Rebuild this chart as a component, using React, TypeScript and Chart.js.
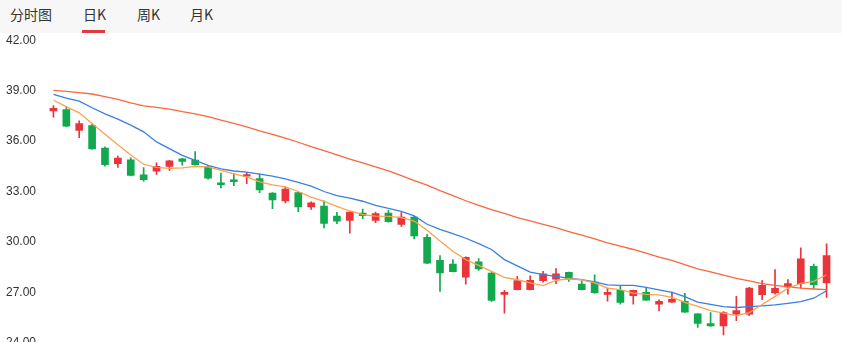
import React, { useEffect, useRef } from "react";
import { Chart, registerables } from "chart.js";

Chart.register(...registerables);

const tabs = ["分时图", "日K", "周K", "月K"];
const tabLeft = [10, 83, 137, 190];

const openP = [37.80, 37.88, 36.64, 36.92, 35.59, 34.65, 34.89, 33.99, 34.21, 34.49, 34.95, 34.87, 34.47, 33.51, 33.69, 33.91, 33.77, 32.91, 32.44, 32.93, 32.08, 32.14, 31.54, 31.28, 31.72, 31.28, 31.72, 31.04, 31.48, 30.28, 28.91, 28.69, 27.91, 28.81, 28.15, 26.88, 27.16, 27.16, 27.70, 27.79, 28.19, 27.49, 27.61, 26.88, 27.12, 26.80, 27.00, 26.30, 26.42, 26.46, 25.72, 25.14, 25.00, 25.70, 25.70, 26.86, 26.96, 27.32, 27.52, 28.55, 27.56];
const closeP = [37.95, 36.88, 37.04, 35.53, 34.59, 34.99, 33.95, 33.71, 34.49, 34.83, 34.79, 34.59, 33.79, 33.41, 33.59, 34.01, 33.09, 32.50, 33.14, 32.08, 32.32, 31.10, 31.24, 31.78, 31.56, 31.68, 31.20, 31.48, 30.36, 28.73, 28.15, 28.23, 29.09, 28.39, 26.52, 27.00, 27.70, 27.72, 28.11, 28.11, 27.79, 27.16, 26.98, 27.00, 26.40, 27.12, 26.54, 26.46, 26.58, 25.82, 25.16, 25.00, 25.80, 25.92, 27.25, 27.42, 27.24, 27.52, 28.99, 27.46, 29.19];
const highP = [38.11, 38.05, 37.20, 37.02, 35.66, 35.11, 35.01, 34.43, 34.71, 34.85, 34.98, 35.37, 34.53, 34.09, 34.07, 34.13, 34.03, 32.93, 33.27, 32.97, 32.38, 32.45, 31.76, 31.80, 31.96, 31.78, 31.88, 31.74, 31.54, 30.45, 29.19, 28.95, 29.11, 29.01, 28.17, 27.12, 27.95, 27.99, 28.25, 28.41, 28.21, 27.65, 28.05, 27.25, 27.36, 27.14, 27.25, 26.56, 27.01, 26.95, 25.74, 25.80, 25.86, 26.76, 27.30, 27.70, 28.35, 27.76, 29.65, 28.69, 29.88];
const lowP = [37.42, 36.86, 36.20, 35.52, 34.51, 34.43, 33.93, 33.61, 34.01, 34.25, 34.57, 34.56, 33.73, 33.21, 33.35, 33.47, 32.93, 31.98, 32.32, 31.80, 31.94, 30.84, 31.08, 30.52, 31.38, 31.14, 31.18, 30.92, 30.18, 28.70, 27.06, 28.21, 27.49, 28.31, 26.46, 25.76, 27.14, 27.14, 27.60, 27.52, 27.65, 27.14, 26.94, 26.48, 26.30, 26.30, 26.52, 25.90, 26.40, 25.80, 24.92, 24.98, 24.47, 25.31, 25.62, 26.56, 26.90, 26.90, 27.25, 27.25, 26.70];

const ma5 = [38.43, 38.05, 37.68, 37.04, 36.41, 35.78, 35.17, 34.62, 34.43, 34.38, 34.41, 34.50, 34.47, 34.26, 34.05, 33.87, 33.57, 33.39, 33.27, 33.00, 32.67, 32.41, 32.11, 31.84, 31.63, 31.54, 31.52, 31.45, 31.24, 30.70, 30.05, 29.45, 28.95, 28.61, 28.25, 27.89, 27.75, 27.56, 27.40, 27.71, 27.81, 27.74, 27.56, 27.25, 27.16, 26.96, 26.88, 26.85, 26.70, 26.40, 26.16, 25.92, 25.77, 25.62, 25.80, 26.28, 26.76, 27.24, 27.53, 27.65, 28.05];
const ma10 = [38.78, 38.55, 38.38, 37.98, 37.62, 37.30, 36.95, 36.55, 35.95, 35.55, 35.15, 34.85, 34.55, 34.35, 34.22, 34.15, 34.03, 33.92, 33.75, 33.55, 33.32, 33.00, 32.75, 32.60, 32.42, 32.18, 32.00, 31.82, 31.55, 31.05, 30.75, 30.50, 30.22, 29.90, 29.55, 28.95, 28.58, 28.20, 28.05, 27.95, 27.85, 27.75, 27.62, 27.45, 27.42, 27.42, 27.30, 27.15, 27.00, 26.75, 26.42, 26.28, 26.15, 26.10, 26.15, 26.20, 26.25, 26.35, 26.45, 26.65, 27.10];
const ma30 = [39.01, 38.95, 38.88, 38.80, 38.65, 38.48, 38.27, 38.09, 38.00, 37.90, 37.75, 37.62, 37.45, 37.25, 37.05, 36.85, 36.60, 36.40, 36.18, 35.93, 35.67, 35.43, 35.18, 34.93, 34.70, 34.47, 34.22, 33.95, 33.65, 33.38, 33.05, 32.75, 32.45, 32.18, 31.92, 31.70, 31.45, 31.25, 31.05, 30.85, 30.62, 30.40, 30.18, 29.95, 29.75, 29.55, 29.33, 29.10, 28.90, 28.65, 28.40, 28.22, 28.02, 27.83, 27.68, 27.52, 27.42, 27.33, 27.25, 27.20, 27.16];

const yMin = 24;
const yMax = 42;
const yStep = 3;

const UP = "#e8343a";
const DOWN = "#11a84e";

export default function App() {
  const ref = useRef<HTMLCanvasElement | null>(null);

  useEffect(() => {
    if (!ref.current) return;
    const labels = openP.map((_, i) => String(i + 1));
    const colors = openP.map((o, i) => (closeP[i] >= o ? UP : DOWN));
    const chart = new Chart(ref.current, {
      type: "bar",
      data: {
        labels,
        datasets: [
          {
            type: "line",
            label: "MA5",
            data: ma5,
            borderColor: "#ffa04f",
            borderWidth: 1.3,
            pointRadius: 0,
            tension: 0,
            order: 0,
          } as any,
          {
            type: "line",
            label: "MA10",
            data: ma10,
            borderColor: "#3b7fe0",
            borderWidth: 1.3,
            pointRadius: 0,
            tension: 0,
            order: 0,
          } as any,
          {
            type: "line",
            label: "MA30",
            data: ma30,
            borderColor: "#f8673f",
            borderWidth: 1.3,
            pointRadius: 0,
            tension: 0,
            order: 0,
          } as any,
          {
            label: "wick",
            data: lowP.map((l, i) => [l, highP[i]]),
            backgroundColor: colors,
            barThickness: 1,
            grouped: false,
            order: 2,
          } as any,
          {
            label: "body",
            data: openP.map((o, i) => [o, closeP[i]]),
            backgroundColor: colors,
            barThickness: 7,
            grouped: false,
            order: 1,
          } as any,
        ],
      },
      options: {
        responsive: false,
        animation: false,
        layout: { padding: { left: 0, right: 9, top: 0, bottom: 0 } },
        plugins: { legend: { display: false }, tooltip: { enabled: false } },
        scales: {
          x: { display: false, offset: true },
          y: {
            min: yMin,
            max: yMax,
            grid: { display: false },
            border: { display: false },
            afterFit: (s: any) => {
              s.width = 47;
            },
            ticks: {
              stepSize: yStep,
              padding: 3,
              color: "#333",
              font: { size: 12, family: "'Liberation Sans', Arial, sans-serif" },
              callback: (v: any) => Number(v).toFixed(2),
            },
          },
        },
      },
    });
    return () => chart.destroy();
  }, []);

  return (
    <div
      style={{
        position: "fixed",
        left: 0,
        top: 0,
        width: 842,
        height: 342,
        overflow: "hidden",
        background: "#fff",
        fontFamily: "'Noto Sans CJK SC', 'Noto Sans', sans-serif",
      }}
    >
      <div
        style={{
          position: "absolute",
          left: 0,
          top: 0,
          width: 842,
          height: 33,
          background: "#f7f7f7",
        }}
      >
        {tabs.map((t, i) => (
          <span
            key={t}
            style={{
              position: "absolute",
              left: tabLeft[i],
              top: 0,
              lineHeight: "28px",
              fontSize: 14,
              color: "#333",
              whiteSpace: "nowrap",
            }}
          >
            {t}
          </span>
        ))}
        <div
          style={{
            position: "absolute",
            left: 82,
            top: 30,
            width: 23,
            height: 3,
            background: "#e4393c",
          }}
        />
      </div>
      <canvas
        ref={ref}
        width={842}
        height={323}
        style={{ position: "absolute", left: 0, top: 30, width: 842, height: 323 }}
      />
    </div>
  );
}
